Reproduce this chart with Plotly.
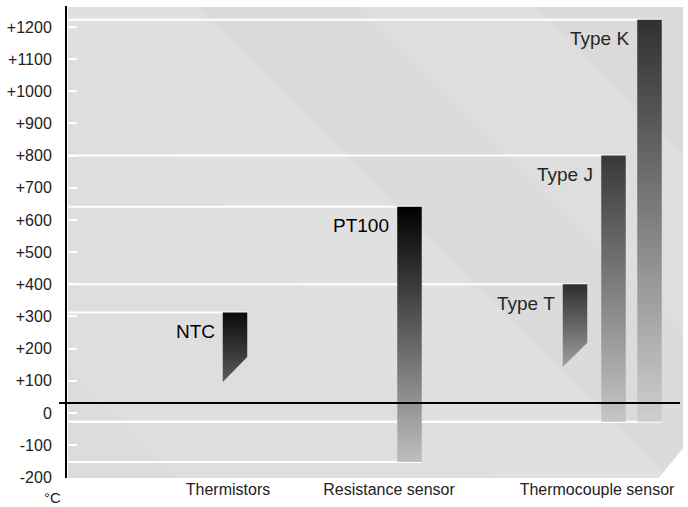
import plotly.graph_objects as go

# ---------------- data ----------------
categories = ["Thermistors", "Resistance sensor", "Thermocouple sensor"]
sensors = ["NTC", "PT100", "Type T", "Type J", "Type K"]
sensor_category = ["Thermistors", "Resistance sensor", "Thermocouple sensor",
                   "Thermocouple sensor", "Thermocouple sensor"]
temp_max = [312, 641, 400, 800, 1222]          # upper limit (°C)
temp_min_left = [96, -152, 143, -27, -27]      # lower limit, left edge (°C)
temp_min_right = [174, -152, 218, -27, -27]    # lower limit, right edge (°C)
tick_values = [-200, -100, 0, 100, 200, 300, 400, 500, 600, 700, 800, 900, 1000, 1100, 1200]
tick_labels = ["-200", "-100", "0", "+100", "+200", "+300", "+400", "+500", "+600",
               "+700", "+800", "+900", "+1000", "+1100", "+1200"]
unit_label = "°C"

# ---------------- layout / style ----------------
W, H = 688, 507
L, R, T, B = 67, 5, 6, 29
PW, PH = W - L - R, H - T - B
Y_RANGE = [-202, 1265]
cat_pos = [161, 322, 530]                       # x positions (axis units = px)
bar_center = [168, 342.5, 508, 546.5, 582.5]
bar_width = 24.5
baseline_value = 31
top_colors = ["#0a0a0a", "#000000", "#2e2e2e", "#383838", "#303030"]
bottom_colors = ["#5c5c5c", "#bfbfbf", "#a0a0a0", "#c6c6c6", "#cfcfcf"]
label_colors = ["#000000", "#000000", "#262626", "#262626", "#262626"]
FONT = "Liberation Sans, Arial, Helvetica, sans-serif"


def px_to_paper(X, Y):
    return (X - L) / PW, (T + PH - Y) / PH


def clip(poly, xmin, xmax, ymin, ymax):
    def clip_edge(pts, inside, inter):
        out = []
        for i in range(len(pts)):
            cur, prev = pts[i], pts[i - 1]
            if inside(cur):
                if not inside(prev):
                    out.append(inter(prev, cur))
                out.append(cur)
            elif inside(prev):
                out.append(inter(prev, cur))
        return out

    def ix(x0):
        return lambda p, q: (x0, p[1] + (q[1] - p[1]) * (x0 - p[0]) / (q[0] - p[0]))

    def iy(y0):
        return lambda p, q: (p[0] + (q[0] - p[0]) * (y0 - p[1]) / (q[1] - p[1]), y0)

    pts = poly
    pts = clip_edge(pts, lambda p: p[0] >= xmin, ix(xmin))
    pts = clip_edge(pts, lambda p: p[0] <= xmax, ix(xmax))
    pts = clip_edge(pts, lambda p: p[1] >= ymin, iy(ymin))
    pts = clip_edge(pts, lambda p: p[1] <= ymax, iy(ymax))
    return pts


def path_from(pts):
    s = ""
    for i, (X, Y) in enumerate(pts):
        xp, yp = px_to_paper(X, Y)
        s += ("M" if i == 0 else "L") + f"{xp:.5f},{yp:.5f} "
    return s + "Z"


shapes = []
# panel background
PX0, PX1, PY0, PY1 = 68, 683, 7, 478
shapes.append(dict(type="path", xref="paper", yref="paper", layer="below",
                   path=path_from([(PX0, PY0), (PX1, PY0), (PX1, PY1), (PX0, PY1)]),
                   fillcolor="#dcdcdc", line=dict(width=0)))
# subtle diagonal bands
bands = [(-300, 17, "#dedede"), (17, 190, "#e0e0e0"), (190, 350, "#dbdbdb"),
         (350, 530, "#dedede"), (530, 900, "#dadada")]
for c0, c1, col in bands:
    poly = [(c0 - 100, -100), (c1 - 100, -100), (c1 + 700, 700), (c0 + 700, 700)]
    pts = clip(poly, PX0, PX1, PY0, PY1)
    if len(pts) >= 3:
        shapes.append(dict(type="path", xref="paper", yref="paper", layer="below",
                           path=path_from(pts), fillcolor=col, line=dict(width=0)))
# cut corner
shapes.append(dict(type="path", xref="paper", yref="paper", layer="below",
                   path=path_from([(PX1 + 1, 447), (PX1 + 1, PY1 + 1), (658, PY1 + 1)]),
                   fillcolor="white", line=dict(width=0)))
# baseline (black)
shapes.append(dict(type="line", xref="paper", yref="y", layer="above",
                   x0=-8 / PW, x1=(680 - L) / PW, y0=baseline_value, y1=baseline_value,
                   line=dict(color="black", width=2)))

fig = go.Figure()

# white reference lines from the axis to each bar's right edge
for i in range(len(sensors)):
    right = bar_center[i] + bar_width / 2
    fig.add_trace(go.Scatter(x=[1, right], y=[temp_max[i], temp_max[i]], mode="lines",
                             line=dict(color="white", width=2), hoverinfo="skip",
                             showlegend=False))
    if temp_min_left[i] == temp_min_right[i]:
        fig.add_trace(go.Scatter(x=[1, right], y=[temp_min_left[i], temp_min_left[i]],
                                 mode="lines", line=dict(color="white", width=2),
                                 hoverinfo="skip", showlegend=False))

# range bars with gradient
for i, name in enumerate(sensors):
    left = bar_center[i] - bar_width / 2
    right = bar_center[i] + bar_width / 2
    lo = min(temp_min_left[i], temp_min_right[i])
    fig.add_trace(go.Scatter(
        x=[left, right, right, left, left],
        y=[temp_max[i], temp_max[i], temp_min_right[i], temp_min_left[i], temp_max[i]],
        mode="lines", line=dict(width=0), fill="toself",
        fillgradient=dict(type="vertical", start=lo, stop=temp_max[i],
                          colorscale=[[0, bottom_colors[i]], [1, top_colors[i]]]),
        name=name, showlegend=False, hoverinfo="name"))
    fig.add_annotation(x=left, y=temp_max[i], xref="x", yref="y", text=name,
                       showarrow=False, xanchor="right", yanchor="middle",
                       xshift=-6, yshift=-19,
                       font=dict(family=FONT, size=19, color=label_colors[i]))

fig.add_annotation(xref="paper", yref="paper", x=(52 - L) / PW, y=-(497 - (T + PH)) / PH,
                   text=unit_label, showarrow=False, xanchor="center", yanchor="middle",
                   font=dict(family=FONT, size=15, color="#222222"),
                   borderpad=0)

fig.update_layout(
    width=W, height=H,
    margin=dict(l=L, r=R, t=T, b=B, pad=0),
    paper_bgcolor="white", plot_bgcolor="white",
    shapes=shapes, showlegend=False,
    xaxis=dict(range=[0, PW], tickvals=cat_pos, ticktext=categories,
               showgrid=False, zeroline=False, showline=False, ticks="",
               tickfont=dict(family=FONT, size=16, color="#222222"), fixedrange=True),
    yaxis=dict(range=Y_RANGE, tickvals=tick_values, ticktext=tick_labels,
               showgrid=False, zeroline=False, showline=True, linecolor="black",
               linewidth=2, ticks="inside", ticklen=10, tickwidth=1.5,
               tickcolor="white", ticklabelstandoff=10,
               tickfont=dict(family=FONT, size=16, color="#222222"), fixedrange=True),
)

fig.write_html("out.html", config={"displayModeBar": False},
               post_script="document.body.style.margin='0';document.body.style.overflow='hidden';")
